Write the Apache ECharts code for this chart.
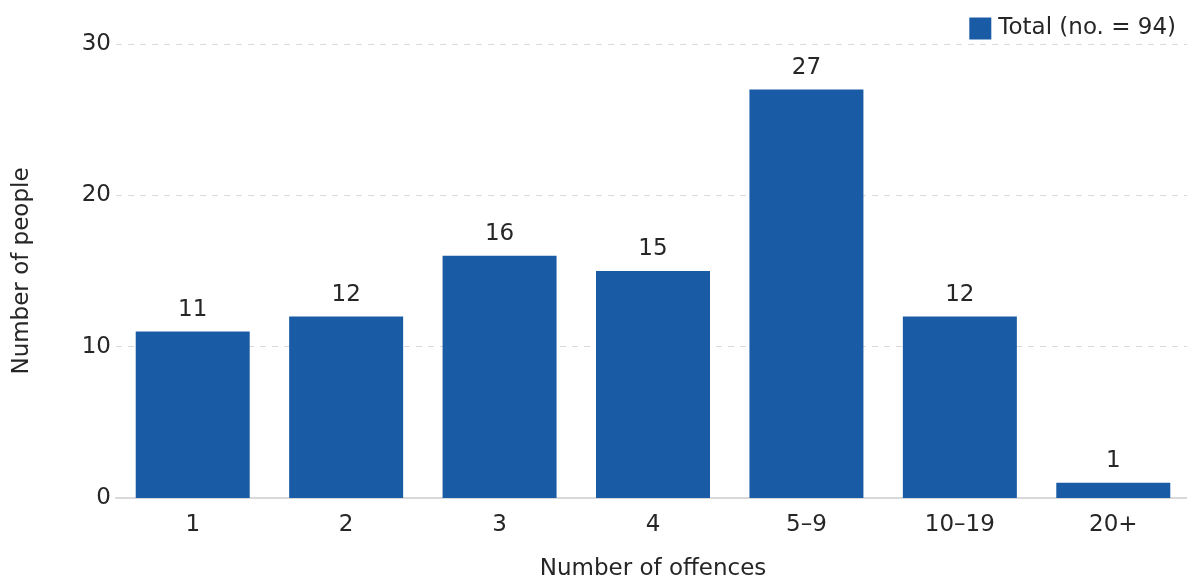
<!DOCTYPE html>
<html>
<head>
<meta charset="utf-8">
<script src="https://cdn.jsdelivr.net/npm/echarts@6/dist/echarts.min.js"></script>
<style>
  html, body { margin: 0; padding: 0; background: #fff; }
  #chart { width: 1187px; height: 579px; }
</style>
</head>
<body>
<div id="chart"></div>
<script>
// Offence-count bands and the number of people in each
const categories = ['1', '2', '3', '4', '5\u20139', '10\u201319', '20+'];
const people = [11, 12, 16, 15, 27, 12, 1];
const seriesName = 'Total (no. = 94)';

const FONT = '"DejaVu Sans", Arial, sans-serif';
const TEXT = '#262626';
const SIZE = 23;

const chart = echarts.init(document.getElementById('chart'), null, { renderer: 'canvas' });
chart.setOption({
  animation: false,
  textStyle: { fontFamily: FONT },
  legend: {
    right: 6,
    top: 12,
    icon: 'rect',
    itemWidth: 22,
    itemHeight: 22,
    itemGap: 8,
    textStyle: { fontSize: SIZE, color: TEXT, fontFamily: FONT, padding: [0, 0, 0, 2] },
    data: [seriesName]
  },
  grid: { left: 116, right: -3, top: 44, bottom: 81, outerBoundsMode: 'none', containLabel: false },
  xAxis: {
    type: 'category',
    data: categories,
    name: 'Number of offences',
    nameLocation: 'middle',
    nameGap: 60,
    nameTextStyle: { fontSize: SIZE, color: TEXT, fontFamily: FONT },
    axisLine: { lineStyle: { color: '#d9d9d9', width: 2 } },
    axisTick: { show: false },
    axisLabel: { fontSize: SIZE, color: TEXT, margin: 16, fontFamily: FONT }
  },
  yAxis: {
    type: 'value',
    min: 0,
    max: 30,
    interval: 10,
    name: 'Number of people',
    nameLocation: 'middle',
    nameGap: 82,
    nameRotate: 90,
    nameTextStyle: { fontSize: SIZE, color: TEXT, fontFamily: FONT },
    axisLine: { show: false },
    axisTick: { show: false },
    axisLabel: { fontSize: SIZE, color: TEXT, margin: 5, fontFamily: FONT },
    splitLine: { lineStyle: { color: '#d9d9d9', type: [6, 6], width: 1 } }
  },
  series: [{
    name: seriesName,
    type: 'bar',
    data: people,
    barCategoryGap: '25.7%',
    itemStyle: { color: '#1a5ba6' },
    label: {
      show: true,
      position: 'top',
      distance: 10,
      fontSize: SIZE,
      color: TEXT,
      fontFamily: FONT
    }
  }]
});
</script>
</body>
</html>
